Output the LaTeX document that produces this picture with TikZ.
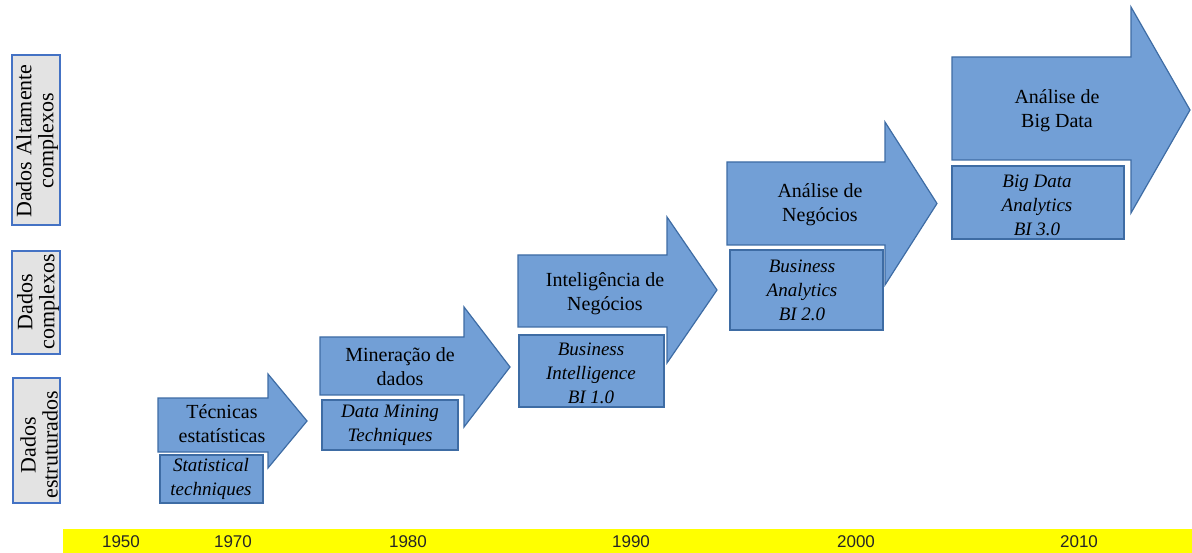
\documentclass[tikz,border=0pt]{standalone}
\usepackage{fontspec}
\setmainfont{Liberation Serif}
\newfontfamily\yearfont{Liberation Sans}
\definecolor{arrowfill}{HTML}{729FD6}
\definecolor{arrowline}{HTML}{3E6CA4}
\definecolor{tagfill}{HTML}{E3E3E3}
\definecolor{tagline}{HTML}{4472C4}
\definecolor{bandyellow}{HTML}{FFFF00}
\begin{document}
\begin{tikzpicture}[x=1pt,y=-1pt,
  era/.style={fill=arrowfill,draw=arrowline,line width=1.2pt,line join=miter},
  subbox/.style={fill=arrowfill,draw=arrowline,line width=1.2pt},
  tag/.style={fill=tagfill,draw=tagline,line width=1.2pt},
  label/.style={align=center,inner sep=0pt,font=\fontsize{20}{24}\selectfont},
  sublabel/.style={align=center,inner sep=0pt,font=\fontsize{19}{24}\selectfont\itshape},
  taglabel/.style={align=center,inner sep=0pt,rotate=90,font=\fontsize{22}{22}\selectfont},
  year/.style={inner sep=0pt,font=\yearfont\fontsize{17}{17}\selectfont,text=black!85}]
\useasboundingbox (0,0) rectangle (1192,553);

% data-type tags on the left
\draw[tag] (12,55) rectangle (60,225);
\node[taglabel] (tagA) at (37,141) {Dados Altamente\\complexos};
\draw[tag] (12,251) rectangle (60,354);
\node[taglabel] (tagB) at (38,302) {Dados\\complexos};
\draw[tag] (13,378) rectangle (60,503);
\node[taglabel] (tagC) at (39,445) {Dados\\estruturados};

% era arrows: body left, top, bottom, head base, head top, tip x, tip y, head bottom
\draw[era] (158,398) -- (268,398) -- (268,374) -- (307,421) -- (268,468) -- (268,452) -- (158,452) -- cycle;
\draw[era] (320,337) -- (464,337) -- (464,307) -- (510,367) -- (464,427) -- (464,395) -- (320,395) -- cycle;
\draw[era] (518,255) -- (667,255) -- (667,217) -- (717,290) -- (667,363) -- (667,327) -- (518,327) -- cycle;
\draw[era] (727,162) -- (885,162) -- (885,122) -- (937,203.5) -- (885,285) -- (885,245) -- (727,245) -- cycle;
\draw[era] (952,57) -- (1131,57) -- (1131,7) -- (1190,110) -- (1131,213) -- (1131,160) -- (952,160) -- cycle;

\node[label] (e1) at (222,424) {Técnicas\\estatísticas};
\node[label] (e2) at (400,367) {Mineração de\\dados};
\node[label] (e3) at (605,294) {Inteligência de\\Negócios};
\node[label] (e4) at (820,205) {Análise de\\Negócios};
\node[label] (e5) at (1057,111) {Análise de\\Big Data};

% English captions under each arrow
\draw[subbox] (160,455) rectangle (263,503);
\node[sublabel] (s1) at (211,479) {Statistical\\techniques};
\draw[subbox] (322,400) rectangle (458,450);
\node[sublabel] (s2) at (390,425) {Data Mining\\Techniques};
\draw[subbox] (519,335) rectangle (664,407);
\node[sublabel] (s3) at (591,373) {Business\\Intelligence\\BI 1.0};
\draw[subbox] (730,250) rectangle (883,330);
\node[sublabel] (s4) at (802,290) {Business\\Analytics\\BI 2.0};
\draw[subbox] (952,166) rectangle (1124,239);
\node[sublabel] (s5) at (1037,205) {Big Data\\Analytics\\BI 3.0};

% time line
\fill[bandyellow] (63,529) rectangle (1192,553);
\node[year] (y1950) at (121,542) {1950};
\node[year] (y1970) at (233,542) {1970};
\node[year] (y1980) at (408,542) {1980};
\node[year] (y1990) at (631,542) {1990};
\node[year] (y2000) at (856,542) {2000};
\node[year] (y2010) at (1079,542) {2010};
\end{tikzpicture}
\end{document}
